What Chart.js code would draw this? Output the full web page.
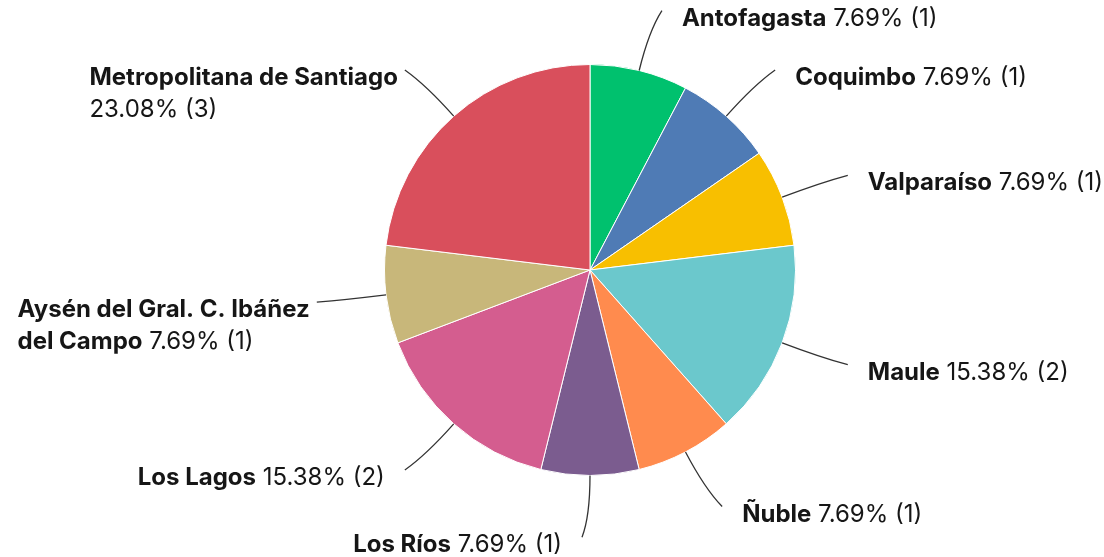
<!DOCTYPE html>
<html lang="es">
<head>
  <meta charset="UTF-8">
  <title>Regiones</title>
  <script src="https://cdn.jsdelivr.net/npm/chart.js"></script>
  <style>
    body { margin: 0; background: #fff; }
    .wrap { width: 1104px; height: 557px; position: relative; }
  </style>
</head>
<body>
  <div class="wrap"><canvas id="pie"></canvas></div>

  <script>
    const regions = ['Antofagasta', 'Coquimbo', 'Valparaíso', 'Maule', 'Ñuble',
      'Los Ríos', 'Los Lagos', 'Aysén del Gral. C. Ibáñez del Campo', 'Metropolitana de Santiago'];
    const counts = [1, 1, 1, 2, 1, 1, 2, 1, 3];
    const colors = ['#00c16e', '#4f7bb5', '#f8bf00', '#6bc8cc', '#ff8b4e',
      '#7b5c8f', '#d45d8f', '#c8b77a', '#d94f5c'];
    // bold name lines; the value goes after the last one ('' = value on its own line)
    const nameLines = [
      ['Antofagasta'], ['Coquimbo'], ['Valparaíso'], ['Maule'], ['Ñuble'],
      ['Los Ríos'], ['Los Lagos'], ['Aysén del Gral. C. Ibáñez', 'del Campo'],
      ['Metropolitana de Santiago', '']
    ];

    const total = counts.reduce((a, b) => a + b, 0);
    const FONT = 'Inter, Roboto, sans-serif';
    const SIZE = 24;

    const leaderLabels = {
      id: 'leaderLabels',
      afterDraw(chart) {
        const ctx = chart.ctx;
        const arcs = chart.getDatasetMeta(0).data;
        ctx.save();
        arcs.forEach((arc, i) => {
          const R = arc.outerRadius;
          const mid = (arc.startAngle + arc.endAngle) / 2;
          const c = Math.cos(mid), s = Math.sin(mid);
          const right = c > 0.01;
          const dir = right ? 1 : -1;
          const p0 = { x: arc.x + c * R, y: arc.y + s * R };
          const p1 = { x: arc.x + c * R * 1.2, y: arc.y + s * R * 1.2 };
          const p2 = { x: arc.x + c * R * 1.3 + dir * 8, y: arc.y + s * R * 1.3 };

          ctx.strokeStyle = '#333';
          ctx.lineWidth = 1.3;
          ctx.beginPath();
          ctx.moveTo(p0.x, p0.y);
          ctx.quadraticCurveTo(p1.x, p1.y, p2.x, p2.y);
          ctx.stroke();

          const pct = (counts[i] / total * 100).toFixed(2) + '% (' + counts[i] + ')';
          const lines = nameLines[i];
          const bold = '700 ' + SIZE + 'px ' + FONT;
          const reg = '400 ' + SIZE + 'px ' + FONT;
          const widths = lines.map((ln, k) => {
            ctx.font = bold;
            let w = ln ? ctx.measureText(ln).width : 0;
            if (k === lines.length - 1) {
              ctx.font = reg;
              w += (ln ? ctx.measureText(' ').width : 0) + ctx.measureText(pct).width;
            }
            return w;
          });
          const blockW = Math.max(...widths);
          const multi = lines.length > 1;
          let x0;
          if (right) x0 = p2.x + 20;
          else x0 = p2.x - (multi ? 7 : 20) - blockW;
          ctx.textBaseline = 'middle';
          ctx.textAlign = 'left';
          ctx.fillStyle = '#161616';
          lines.forEach((ln, k) => {
            const y = p2.y + 8 + k * 32;
            let x = x0;
            ctx.font = bold;
            if (ln) {
              ctx.fillText(ln, x, y);
              x += ctx.measureText(ln).width;
            }
            if (k === lines.length - 1) {
              ctx.font = reg;
              if (ln) x += ctx.measureText(' ').width;
              ctx.fillText(pct, x, y);
            }
          });
        });
        ctx.restore();
      }
    };

    new Chart(document.getElementById('pie'), {
      type: 'pie',
      data: {
        labels: regions,
        datasets: [{
          data: counts,
          backgroundColor: colors,
          borderColor: '#ffffff',
          borderWidth: 1
        }]
      },
      options: {
        responsive: true,
        maintainAspectRatio: false,
        animation: false,
        layout: { padding: { top: 64, bottom: 81, left: 384, right: 308 } },
        plugins: {
          legend: { display: false },
          tooltip: { enabled: false }
        }
      },
      plugins: [leaderLabels]
    });
  </script>
</body>
</html>
